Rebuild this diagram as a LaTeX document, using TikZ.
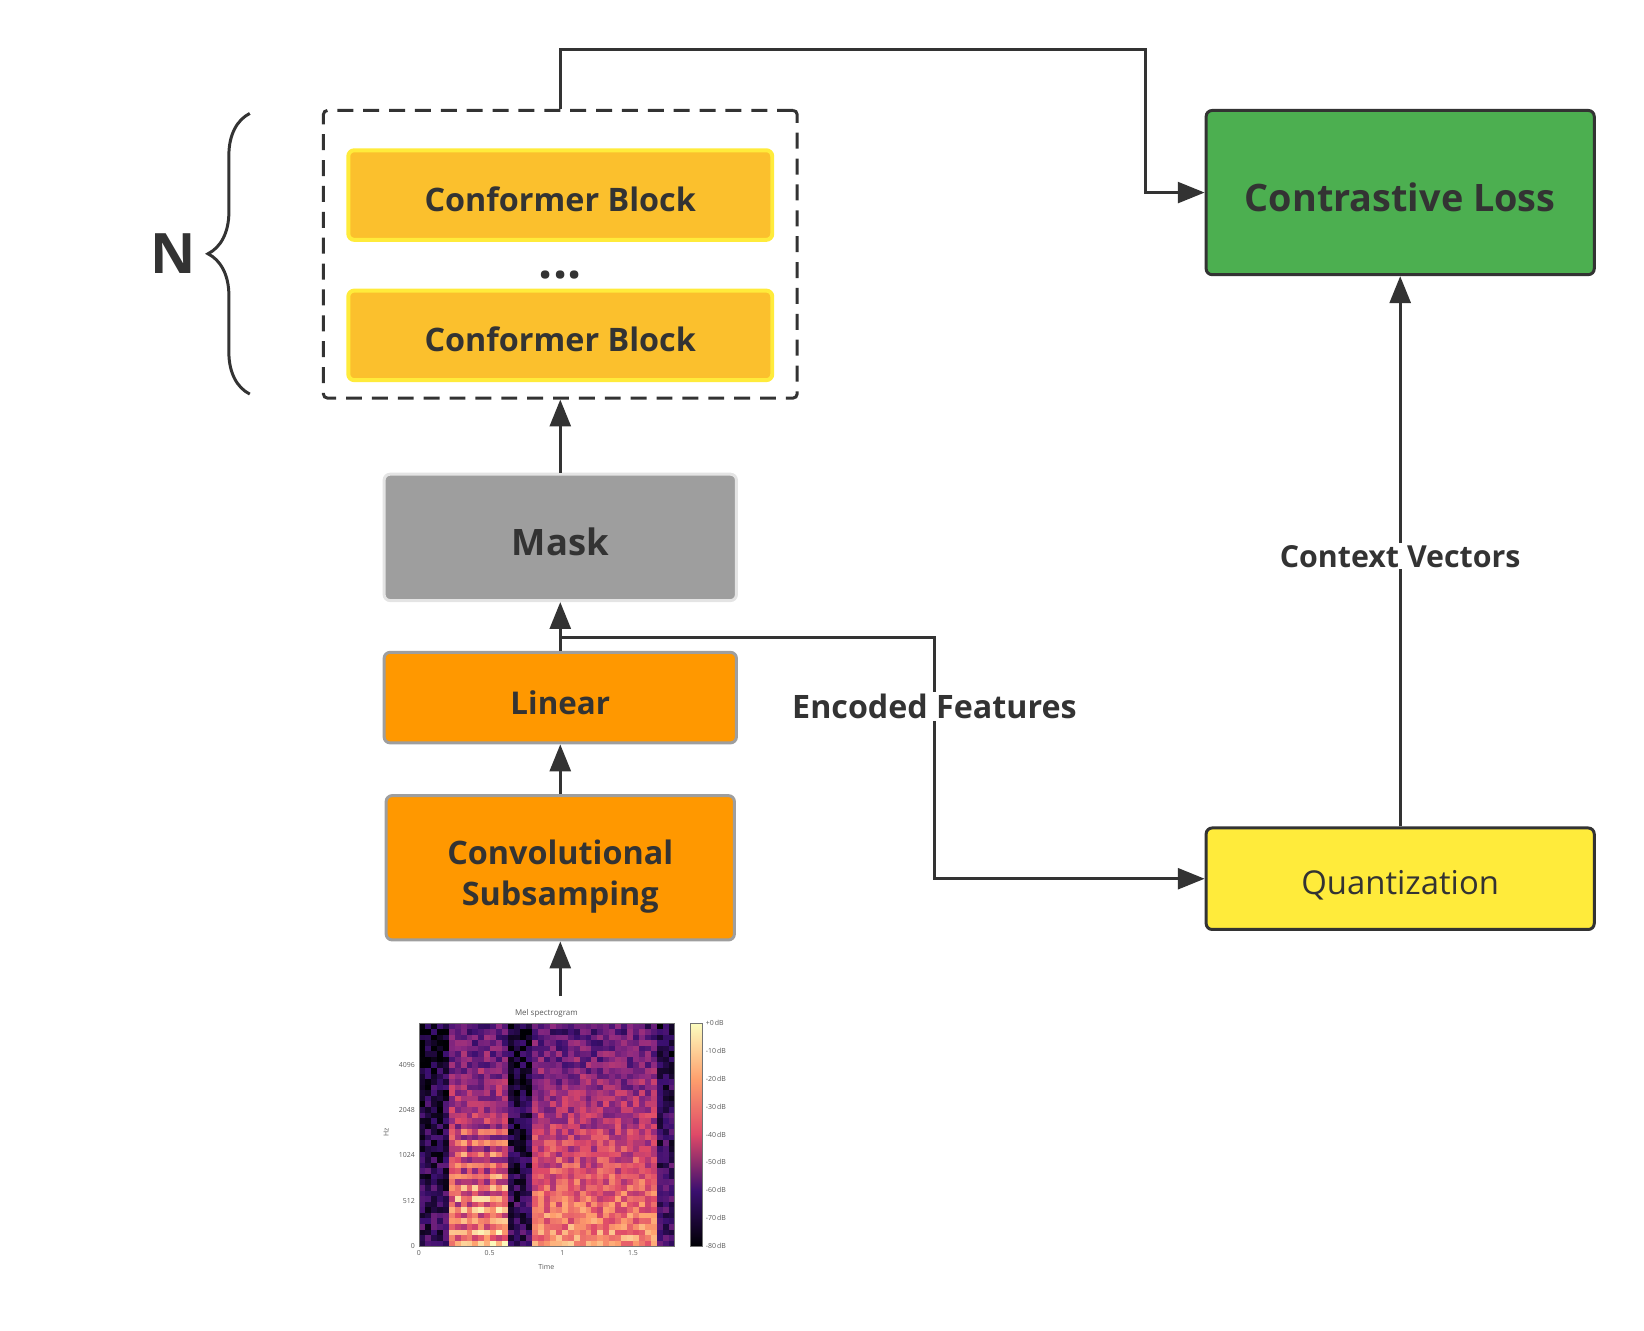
\documentclass[tikz,border=0pt]{standalone}
\usepackage{fontspec}
\setmainfont{Open Sans}
\usetikzlibrary{arrows.meta,decorations.pathreplacing}
\definecolor{InkGray}{HTML}{333333}
\definecolor{ConformerFill}{HTML}{FBC02D}
\definecolor{ConformerLine}{HTML}{FFEB3B}
\definecolor{MaskFill}{HTML}{9E9E9E}
\definecolor{MaskLine}{HTML}{E4E4E4}
\definecolor{OrangeFill}{HTML}{FF9800}
\definecolor{OrangeLine}{HTML}{9E9E9E}
\definecolor{LossFill}{HTML}{4CAF50}
\definecolor{QuantFill}{HTML}{FFEB3B}
\definecolor{MagmaA}{HTML}{000004}
\definecolor{MagmaB}{HTML}{3B0F70}
\definecolor{MagmaC}{HTML}{8C2981}
\definecolor{MagmaD}{HTML}{DE4968}
\definecolor{MagmaE}{HTML}{FE9F6D}
\definecolor{MagmaF}{HTML}{FCFDBF}
\newcommand\SpecCell[1]{%
  \pgfmathtruncatemacro\SpecK{#1*5}%
  \pgfmathtruncatemacro\SpecT{(#1*5-\SpecK)*100}%
  \ifcase\SpecK
    \colorlet{SpecCellColor}{MagmaB!\SpecT!MagmaA}%
  \or \colorlet{SpecCellColor}{MagmaC!\SpecT!MagmaB}%
  \or \colorlet{SpecCellColor}{MagmaD!\SpecT!MagmaC}%
  \or \colorlet{SpecCellColor}{MagmaE!\SpecT!MagmaD}%
  \else \colorlet{SpecCellColor}{MagmaF!\SpecT!MagmaE}%
  \fi}
\tikzset
{
  BlockStyle/.style =
  {
    shape = rectangle,
    rounded corners = 6pt,
    line width = 3pt,
    text = InkGray,
    align = center,
    font = \bfseries\fontsize{32.5}{41}\selectfont,
  },
  ConformerStyle/.style =
  {
    BlockStyle,
    fill = ConformerFill,
    draw = ConformerLine,
    line width = 4pt,
    minimum width = 426pt,
    minimum height = 90pt,
    text height = 33pt,
  },
  ConnectorStyle/.style =
  {
    draw = InkGray,
    line width = 3pt,
    -{Triangle[length=27pt,width=21pt]},
  },
  EdgeLabelStyle/.style =
  {
    fill = white,
    text = InkGray,
    inner sep = 2pt,
    font = \bfseries\fontsize{32.4}{38}\selectfont,
  },
  TickStyle/.style =
  {
    text = black!65,
    inner sep = 1pt,
    font = \fontsize{7}{8}\selectfont,
  }
}

\begin{document}
\begin{tikzpicture}[x=1pt,y=-1pt]
  \useasboundingbox (0,0) rectangle (1652,1336.5);

  \node[draw=InkGray, line width=3pt, dash pattern=on 16pt off 10pt, rounded corners=4pt,
        minimum width=476pt, minimum height=289pt] (stack) at (563,255.5) {};
  \node[ConformerStyle] (conf1) at (563,196) {Conformer Block};
  \node[ConformerStyle] (conf2) at (563,337) {Conformer Block};
  \node[text=InkGray, font=\bfseries\fontsize{50}{50}\selectfont] (dots) at (563,276) {...};

  \draw[InkGray, line width=3pt, decorate, decoration={brace,amplitude=42pt}] (251,396) -- (251,114);
  \node[text=InkGray, font=\bfseries\fontsize{56}{56}\selectfont] (repeat) at (174,255) {N};

  \node[BlockStyle, fill=MaskFill, draw=MaskLine, minimum width=354pt, minimum height=127pt,
        font=\bfseries\fontsize{36.6}{44}\selectfont, text height=36pt] (mask) at (563,540) {Mask};
  \node[BlockStyle, fill=OrangeFill, draw=OrangeLine, minimum width=354pt, minimum height=91pt,
        font=\bfseries\fontsize{31.5}{41}\selectfont, text height=34pt] (linear) at (563,701) {Linear};
  \node[BlockStyle, fill=OrangeFill, draw=OrangeLine, minimum width=350pt, minimum height=145pt,
        text height=84pt] (conv) at (563,872) {Convolutional\\Subsamping};

  \node[BlockStyle, fill=LossFill, draw=InkGray, minimum width=390pt, minimum height=165pt,
        font=\bfseries\fontsize{38}{44}\selectfont, text height=39pt] (closs) at (1407,193.5) {Contrastive Loss};
  \node[BlockStyle, fill=QuantFill, draw=InkGray, minimum width=390pt, minimum height=102pt,
        font=\fontsize{33}{37}\selectfont, text height=37pt] (quant) at (1407,883) {Quantization};

  \coordinate (specTop) at (563,1001);
  \coordinate (branch) at (563,641);
  \coordinate (encTurn) at (939,641);
  \coordinate (topTurn) at (1151,50);

  \draw[ConnectorStyle] (specTop) -- (conv);
  \draw[ConnectorStyle] (conv) -- (linear);
  \draw[ConnectorStyle] (linear) -- (mask);
  \draw[ConnectorStyle] (mask) -- (stack);
  \draw[ConnectorStyle] (stack.north) |- (topTurn) |- (closs.west);
  \draw[ConnectorStyle] (branch) -- (encTurn) |- (quant.west);
  \draw[ConnectorStyle] (quant) -- (closs);
  \node[EdgeLabelStyle] (encLabel) at (939,710) {Encoded Features};
  \node[EdgeLabelStyle, font=\bfseries\fontsize{30.5}{36}\selectfont] (ctxLabel) at (1407,559) {Context Vectors};

  % mel spectrogram
  \pgfmathsetseed{42}
  \foreach \i in {0,...,42}
  {
    \foreach \j in {0,...,39}
    {
      \pgfmathsetmacro\xf{\i/42}
      \pgfmathsetmacro\yf{\j/39}
      \pgfmathsetmacro\base{\xf<0.11 ? 0.14 : (\xf<0.35 ? 0.6 : (\xf<0.45 ? 0.14 : (\xf<0.95 ? 0.58 : 0.18)))}
      \pgfmathsetmacro\stripe{(\xf>0.12 && \xf<0.35 && \yf<0.55) ? 0.12*cos(\j*180) : 0}
      \pgfmathsetmacro\v{max(0,min(0.99,\base*(1.3-0.85*\yf)+\stripe+0.3*rnd-0.14))}
      \SpecCell{\v}
      \fill[SpecCellColor] ({421+\i*257/43},{1252-(\j+1)*5.6}) rectangle ++({257/43+0.4},6);
    }
  }
  \draw[black!55, line width=0.6pt] (421,1028) rectangle (678,1252);
  \node[TickStyle, font=\fontsize{8}{9}\selectfont] (specTitle) at (549,1018) {Mel spectrogram};
  \foreach \lbl/\yy in {4096/1070,2048/1115,1024/1161,512/1207,0/1252}
    \node[TickStyle, anchor=east] (ytick\lbl) at (418,\yy) {\lbl};
  \foreach \lbl/\xx [count=\n] in {0/421,0.5/492,1/565,1.5/636}
    \node[TickStyle, anchor=north] (xtick\n) at (\xx,1255) {\lbl};
  \node[TickStyle, rotate=90] (hzLabel) at (388,1138) {Hz};
  \node[TickStyle] (timeLabel) at (549,1273) {Time};
  \shade[bottom color=MagmaA, top color=MagmaB] (694,1196) rectangle (706,1252);
  \shade[bottom color=MagmaB, top color=MagmaD] (694,1140) rectangle (706,1196.5);
  \shade[bottom color=MagmaD, top color=MagmaE] (694,1084) rectangle (706,1140.5);
  \shade[bottom color=MagmaE, top color=MagmaF] (694,1028) rectangle (706,1084.5);
  \draw[black!55, line width=0.5pt] (694,1028) rectangle (706,1252);
  \foreach \lbl [count=\k from 0] in {+0,-10,-20,-30,-40,-50,-60,-70,-80}
    \node[TickStyle, anchor=west] (cbar\k) at (708,{1028+\k*28}) {\lbl\,dB};
\end{tikzpicture}
\end{document}
